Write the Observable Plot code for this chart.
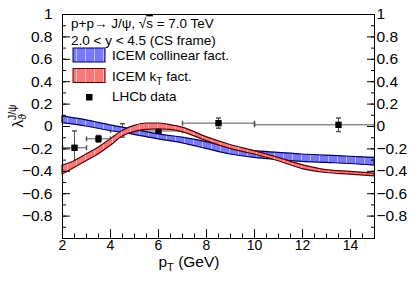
<!DOCTYPE html>
<html><head><meta charset="utf-8">
<script src="https://cdn.jsdelivr.net/npm/d3@7"></script>
<script src="https://cdn.jsdelivr.net/npm/@observablehq/plot@0.6"></script>
<style>
body{margin:0;background:#fff}
svg{font-family:"Liberation Sans",Arial,Helvetica,sans-serif}
</style>
</head><body><div id="chart"></div>
<script>
// ICEM collinear factorization band
const colPt = [2,3,4,5,6,7,8,9,10,11,12,13,14,15];
const colLo = [0.03,0.00,-0.04,-0.075,-0.115,-0.15,-0.20,-0.25,-0.28,-0.30,-0.315,-0.325,-0.335,-0.35];
const colHi = [0.09,0.055,0.01,-0.03,-0.07,-0.10,-0.14,-0.19,-0.22,-0.235,-0.25,-0.26,-0.27,-0.28];
// ICEM kT factorization band
const ktPt = [2,2.5,3,3.5,4,4.5,5,5.5,6,6.5,7,8,9,10,11,12,13,14,15];
const ktLo = [-0.43,-0.37,-0.31,-0.25,-0.175,-0.09,-0.05,-0.03,-0.025,-0.03,-0.05,-0.13,-0.20,-0.25,-0.31,-0.38,-0.415,-0.43,-0.445];
const ktHi = [-0.35,-0.31,-0.25,-0.19,-0.115,-0.04,0.005,0.027,0.027,0.012,-0.01,-0.095,-0.165,-0.22,-0.28,-0.345,-0.39,-0.405,-0.42];
// LHCb data
const lhcbPt = [2.5,3.5,4.5,6,8.5,13.5];
const lhcbPtLo = [2,3,4,5,7,10];
const lhcbPtHi = [3,4,5,7,10,15];
const lhcbVal = [-0.19,-0.11,-0.035,-0.04,0.03,0.015];
const lhcbErr = [0.15,0.03,0.06,0.065,0.045,0.06];
// ticks
const xTicks = [2,4,6,8,10,12,14];
const xMinor = d3.range(2,15.01,0.5);
const yTicks = [-0.8,-0.6,-0.4,-0.2,0,0.2,0.4,0.6,0.8,1];
const yMinor = d3.range(-1,1.001,0.1).map(v=>+v.toFixed(2));

const col = colPt.map((pt,i)=>({pt, lo:colLo[i], hi:colHi[i]}));
const kt = ktPt.map((pt,i)=>({pt, lo:ktLo[i], hi:ktHi[i]}));
const lhcb = lhcbPt.map((pt,i)=>({pt, x1:lhcbPtLo[i], x2:lhcbPtHi[i], v:lhcbVal[i], y1:lhcbVal[i]-lhcbErr[i], y2:lhcbVal[i]+lhcbErr[i]}));
const capsV = lhcb.flatMap(d=>[{x:d.pt,y:d.y1},{x:d.pt,y:d.y2}]);
const capsH = lhcb.flatMap(d=>[{x:d.x1,y:d.v},{x:d.x2,y:d.v}]);
const capHoriz = {draw(ctx,size){const r=Math.sqrt(size/Math.PI);ctx.moveTo(-r,0);ctx.lineTo(r,0);}};
const capVert = {draw(ctx,size){const r=Math.sqrt(size/Math.PI);ctx.moveTo(0,-r);ctx.lineTo(0,r);}};
const fmt = d3.format("");
const errCol = "#555";

const plot = Plot.plot({
  width:415, height:282,
  marginLeft:62, marginRight:41, marginTop:14, marginBottom:44,
  x:{domain:[2,15]},
  y:{domain:[-1,1]},
  style:{fontFamily:'"Liberation Sans",Arial,sans-serif', color:"#000", background:"#fff"},
  marks:[
    Plot.ruleX(lhcb,{x:"pt",y1:"y1",y2:"y2",stroke:errCol,strokeWidth:1}),
    Plot.ruleY(lhcb,{y:"v",x1:"x1",x2:"x2",stroke:errCol,strokeWidth:1}),
    Plot.dot(capsV,{x:"x",y:"y",symbol:capHoriz,r:2.5,stroke:errCol,fill:"none"}),
    Plot.dot(capsH,{x:"x",y:"y",symbol:capVert,r:2.5,stroke:errCol,fill:"none"}),
    Plot.dot(lhcb,{x:"pt",y:"v",symbol:"square",r:3.6,fill:"#000",stroke:"none"}),
    Plot.areaY(col,{x:"pt",y1:"lo",y2:"hi",fill:"url(#patBlue)",stroke:"#000060",strokeWidth:1.2,curve:"monotone-x"}),
    Plot.areaY(kt,{x:"pt",y1:"lo",y2:"hi",fill:"url(#patRed)",stroke:"#5a0000",strokeWidth:1.2,curve:"monotone-x"}),
    Plot.frame({stroke:"#000",strokeWidth:1}),
    // left axis
    Plot.axisY(yTicks,{anchor:"left",tickSize:-8,tickPadding:18,fontSize:15.5,tickFormat:fmt,label:null}),
    Plot.axisY(yMinor,{anchor:"left",tickSize:-4,tickFormat:()=>"",label:null}),
    // right axis
    Plot.axisY(yTicks,{anchor:"right",tickSize:-8,tickPadding:10,fontSize:15.5,tickFormat:fmt,label:null}),
    Plot.axisY(yMinor,{anchor:"right",tickSize:-4,tickFormat:()=>"",label:null}),
    // bottom axis
    Plot.axisX(xTicks,{anchor:"bottom",tickSize:-9,tickPadding:11,fontSize:14,tickFormat:fmt,label:null}),
    Plot.axisX(xMinor,{anchor:"bottom",tickSize:-4.5,tickFormat:()=>"",label:null})
  ]
});

const svg = d3.select(plot);
const defs = svg.insert("defs",":first-child");
function pat(id, color){
  const p = defs.append("pattern").attr("id",id).attr("patternUnits","userSpaceOnUse").attr("width",9).attr("height",9);
  p.append("rect").attr("width",9).attr("height",9).attr("fill",color);
  p.append("rect").attr("x",4).attr("width",0.8).attr("height",9).attr("fill","#fff").attr("opacity",0.6);
}
pat("patBlue","#7878f8");
pat("patRed","#f87878");

const g = svg.append("g").attr("font-family",'"Liberation Sans",Arial,sans-serif').attr("fill","#000").attr("text-anchor","start");
// header
const t1 = g.append("text").attr("x",71).attr("y",28).attr("font-size",13.5);
t1.append("tspan").text("p+p\u2192 J/\u03c8, \u221a");
t1.append("tspan").attr("style","text-decoration:overline").text("s");
t1.append("tspan").text(" = 7.0 TeV");
g.append("text").attr("x",71).attr("y",45).attr("font-size",13.5).text("2.0 < y < 4.5 (CS frame)");
// legend
g.append("rect").attr("x",73).attr("y",48).attr("width",32).attr("height",14).attr("fill","url(#patBlue)").attr("stroke","#000060");
g.append("text").attr("x",112).attr("y",60).attr("font-size",13.5).text("ICEM collinear fact.");
g.append("rect").attr("x",73).attr("y",68.5).attr("width",32).attr("height",14).attr("fill","url(#patRed)").attr("stroke","#5a0000");
const t2 = g.append("text").attr("x",112).attr("y",81).attr("font-size",13.5);
t2.append("tspan").text("ICEM k");
t2.append("tspan").attr("font-size",10).attr("dy",4).text("T");
t2.append("tspan").attr("dy",-4).text(" fact.");
g.append("rect").attr("x",86).attr("y",94).attr("width",6.5).attr("height",6.5).attr("fill","#000");
g.append("text").attr("x",112).attr("y",101).attr("font-size",13.5).text("LHCb data");
// x title
const xt = g.append("text").attr("x",189).attr("y",267).attr("font-size",15.5).attr("text-anchor","middle");
xt.append("tspan").text("p");
xt.append("tspan").attr("font-size",11).attr("dy",4).text("T");
xt.append("tspan").attr("dy",-4).text(" (GeV)");
// y title
const yt = g.append("text").attr("transform","translate(22.5,116) rotate(-90)").attr("font-size",15.5).attr("text-anchor","middle");
yt.append("tspan").text("\u03bb");
yt.append("tspan").attr("font-size",10.5).attr("dy",3.5).text("\u03d1");
yt.append("tspan").attr("font-size",10.5).attr("dx",-6).attr("dy",-10).text("J/\u03c8");

document.getElementById("chart").appendChild(plot);
</script>
</body></html>
